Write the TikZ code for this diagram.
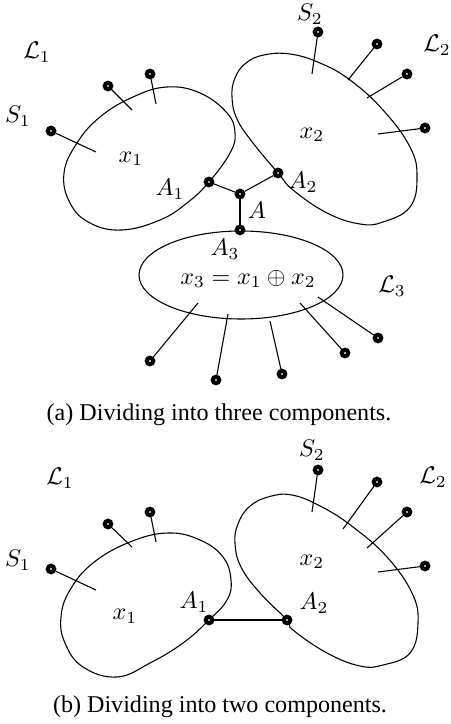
\documentclass[tikz,border=0pt]{standalone}
\usepackage{fontspec}
\setmainfont{Liberation Serif}
\usepackage{tikz}
\usetikzlibrary{positioning}

\begin{document}
\begin{tikzpicture}[
    x=0.415pt, y=-0.415pt,
    term/.style={circle, draw, line width=1.7pt, fill=white, inner sep=0pt, minimum size=2.7pt},
    blob/.style={draw, line width=0.45pt},
    leg/.style={draw, line width=0.45pt},
    lbl/.style={inner sep=0pt}
]
    \useasboundingbox (0,0) rectangle (451,724);

    % (a) three components
    \draw [blob] plot [smooth cycle, tension=0.7] coordinates {
        (64,173) (77,143) (100,117) (133,97) (167,87) (200,93) (227,113) (235,133)
        (230,153) (209,182) (187,203) (160,220) (122,230) (90,223) (70,203)};
    \draw [blob] plot [smooth cycle, tension=0.7] coordinates {
        (232,97) (235,78) (246,63) (264,55) (290,54) (320,63) (350,80) (383,110)
        (410,147) (417,177) (410,207) (383,222) (360,224) (327,213) (293,190) (278,173)
        (253,143) (237,119)};
    \draw [blob] (241,275) ellipse [x radius=102, y radius=44];

    \node [lbl] (lA1) at (37,52) {$\mathcal{L}_1$};
    \node [lbl] (lA2) at (437,45) {$\mathcal{L}_2$};
    \node [lbl] (lA3) at (392,286) {$\mathcal{L}_3$};
    \node [lbl] (sA1) at (18,116) {$S_1$};
    \node [lbl] (sA2) at (310,14) {$S_2$};
    \node [lbl] (xA1) at (131,159) {$x_1$};
    \node [lbl] (xA2) at (312,135) {$x_2$};
    \node [lbl] (xA3) at (248,279) {$x_3 = x_1 \oplus x_2$};

    % terminals of x1
    \node [term] (pA11) at (51,131) {};
    \node [term] (pA12) at (108,86) {};
    \node [term] (pA13) at (150,74) {};
    \coordinate (qA11) at (96,152);
    \coordinate (qA12) at (132,110);
    \coordinate (qA13) at (156,104);
    \path [leg] (qA11) -- (pA11);
    \path [leg] (qA12) -- (pA12);
    \path [leg] (qA13) -- (pA13);

    % terminals of x2
    \node [term] (pA21) at (318,32) {};
    \node [term] (pA22) at (377,44) {};
    \node [term] (pA23) at (407,74) {};
    \node [term] (pA24) at (425,128) {};
    \coordinate (qA21) at (312,74);
    \coordinate (qA22) at (348,80);
    \coordinate (qA23) at (367,98);
    \coordinate (qA24) at (378,134);
    \path [leg] (qA21) -- (pA21);
    \path [leg] (qA22) -- (pA22);
    \path [leg] (qA23) -- (pA23);
    \path [leg] (qA24) -- (pA24);

    % terminals of x3
    \node [term] (pA31) at (150,361) {};
    \node [term] (pA32) at (216,380) {};
    \node [term] (pA33) at (282,374) {};
    \node [term] (pA34) at (345,353) {};
    \node [term] (pA35) at (378,338) {};
    \coordinate (qA31) at (198,303);
    \coordinate (qA32) at (228,314);
    \coordinate (qA33) at (270,321);
    \coordinate (qA34) at (300,303);
    \coordinate (qA35) at (318,297);
    \path [leg] (qA31) -- (pA31);
    \path [leg] (qA32) -- (pA32);
    \path [leg] (qA33) -- (pA33);
    \path [leg] (qA34) -- (pA34);
    \path [leg] (qA35) -- (pA35);

    % junction
    \node [term] (a1) at (209,182) {};
    \node [term] (a2) at (278,173) {};
    \node [term] (a) at (240,194) {};
    \node [term] (a3) at (240,230) {};
    \path [leg] (a1) -- (a);
    \path [leg] (a2) -- (a);
    \path [leg] (a) -- (a3);
    \node [lbl] at (170,189) {$A_1$};
    \node [lbl] at (303,182) {$A_2$};
    \node [lbl] at (257,210) {$A$};
    \node [lbl] at (225,249) {$A_3$};

    \node (capa) at (219,415) {(a) Dividing into three components.};

    % (b) two components
    \draw [blob] plot [smooth cycle, tension=0.7] coordinates {
        (61,617) (70,590) (93,563) (130,542) (168,533) (200,540) (223,557) (231,580)
        (227,600) (209,620) (183,643) (150,663) (117,677) (83,667) (65,643)};
    \draw [blob] plot [smooth cycle, tension=0.7] coordinates {
        (235,543) (238,524) (249,507) (268,497) (292,495) (322,507) (353,527) (387,557)
        (412,593) (418,623) (410,653) (383,665) (360,666) (327,653) (293,630) (287,620)
        (260,593) (241,567)};

    \node [lbl] (lB1) at (60,478) {$\mathcal{L}_1$};
    \node [lbl] (lB2) at (433,477) {$\mathcal{L}_2$};
    \node [lbl] (sB1) at (18,560) {$S_1$};
    \node [lbl] (sB2) at (312,450) {$S_2$};
    \node [lbl] (xB1) at (125,616) {$x_1$};
    \node [lbl] (xB2) at (312,562) {$x_2$};

    \node [term] (pB11) at (51,569) {};
    \node [term] (pB12) at (108,524) {};
    \node [term] (pB13) at (150,512) {};
    \coordinate (qB11) at (96,590);
    \coordinate (qB12) at (132,547);
    \coordinate (qB13) at (156,542);
    \path [leg] (qB11) -- (pB11);
    \path [leg] (qB12) -- (pB12);
    \path [leg] (qB13) -- (pB13);

    \node [term] (pB21) at (318,470) {};
    \node [term] (pB22) at (377,482) {};
    \node [term] (pB23) at (407,512) {};
    \node [term] (pB24) at (425,566) {};
    \coordinate (qB21) at (312,512);
    \coordinate (qB22) at (343,529);
    \coordinate (qB23) at (367,548);
    \coordinate (qB24) at (378,572);
    \path [leg] (qB21) -- (pB21);
    \path [leg] (qB22) -- (pB22);
    \path [leg] (qB23) -- (pB23);
    \path [leg] (qB24) -- (pB24);

    \node [term] (b1) at (209,620) {};
    \node [term] (b2) at (287,620) {};
    \path [leg] (b1) -- (b2);
    \node [lbl] at (194,602) {$A_1$};
    \node [lbl] at (314,603) {$A_2$};

    \node (capb) at (220,707) {(b) Dividing into two components.};
\end{tikzpicture}
\end{document}
